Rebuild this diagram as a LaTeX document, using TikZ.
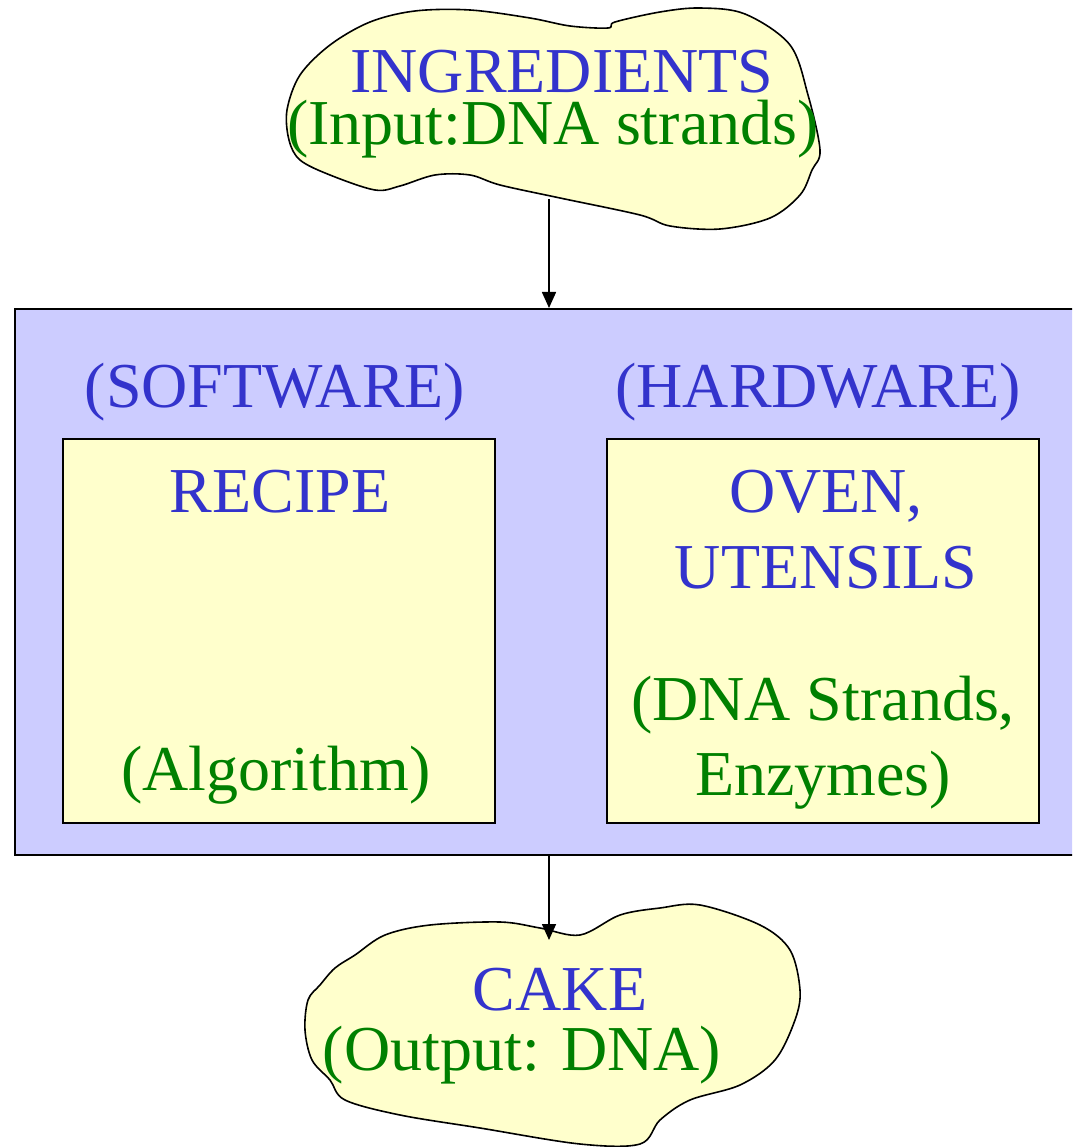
\documentclass[tikz,border=0pt]{standalone}
\usepackage{fontspec}
\setmainfont{Liberation Serif}
\usetikzlibrary{arrows.meta}
\definecolor{txtblue}{HTML}{3333CC}
\definecolor{txtgreen}{HTML}{008000}
\definecolor{paleyellow}{HTML}{FFFFCC}
\definecolor{palelilac}{HTML}{CCCCFF}
\tikzset{
  bluetxt/.style={text=txtblue,font=\fontsize{64}{75}\selectfont,anchor=base,inner sep=0pt},
  greentxt/.style={text=txtgreen,font=\fontsize{64}{75}\selectfont,anchor=base,inner sep=0pt},
  blob/.style={draw=black,fill=paleyellow,line width=1.6pt,line join=round},
  frame/.style={draw=black,line width=2pt},
  conn/.style={draw=black,line width=1.6pt,-{Triangle[width=14pt,length=16pt]}}
}
\begin{document}
\begin{tikzpicture}[x=1pt,y=-1pt]
\useasboundingbox (0,0) rectangle (1072,1147);
\begin{scope}
\clip (0,0) rectangle (1072,1147);
% top blob
\draw[blob] plot[smooth cycle,tension=0.55] coordinates {
(300,75) (330,45) (370,22) (415,11) (470,10) (530,18) (570,26) (608,28) (615,22) (660,12) (700,8) (745,14) (790,45) (808,95) (820,150) (812,170) (800,195) (770,218) (720,229) (670,226) (640,215) (560,198) (500,185) (470,175) (435,175) (400,186) (375,190) (330,175) (300,160) (289,140) (287,110)};
% system box
\node[frame,fill=palelilac,minimum width=1068pt,minimum height=546pt,inner sep=0pt] (system) at (549,582) {};
\node[frame,fill=paleyellow,minimum width=432pt,minimum height=384pt,inner sep=0pt] (soft) at (279,631) {};
\node[frame,fill=paleyellow,minimum width=432pt,minimum height=384pt,inner sep=0pt] (hard) at (823,631) {};
% bottom blob
\draw[blob] plot[smooth cycle,tension=0.55] coordinates {
(320,985) (335,968) (355,955) (385,935) (430,925) (500,922) (540,928) (580,935) (620,915) (660,908) (700,905) (760,925) (790,950) (800,990) (795,1020) (775,1060) (740,1085) (690,1100) (660,1120) (640,1144) (580,1144) (480,1128) (400,1115) (345,1100) (330,1080) (312,1060) (305,1030) (308,1000)};
\end{scope}
\coordinate (inbottom) at (549,199);
\coordinate (outtop) at (549,940);
\draw[conn] (inbottom) -- (system.north);
\draw[conn] (system.south) -- (outtop);
% texts
\node[bluetxt] (ingr) at (562,93) {INGREDIENTS};
\node[greentxt] (input) at (553,145) {(Input:DNA strands)};
\node[bluetxt] (swlabel) at (275,407) {(SOFTWARE)};
\node[bluetxt] (hwlabel) at (818,407) {(HARDWARE)};
\node[bluetxt] (recipe) at (280,512) {RECIPE};
\node[greentxt] (algo) at (276,790) {(Algorithm)};
\node[bluetxt] (oven) at (826,512) {OVEN,};
\node[bluetxt] (utens) at (826,588) {UTENSILS};
\node[greentxt] (dnas) at (823,720) {(DNA Strands,};
\node[greentxt] (enz) at (823,795) {Enzymes)};
\node[bluetxt] (cake) at (560,1010) {CAKE};
\node[greentxt] (output) at (522,1070) {(Output: DNA)};
\end{tikzpicture}
\end{document}
